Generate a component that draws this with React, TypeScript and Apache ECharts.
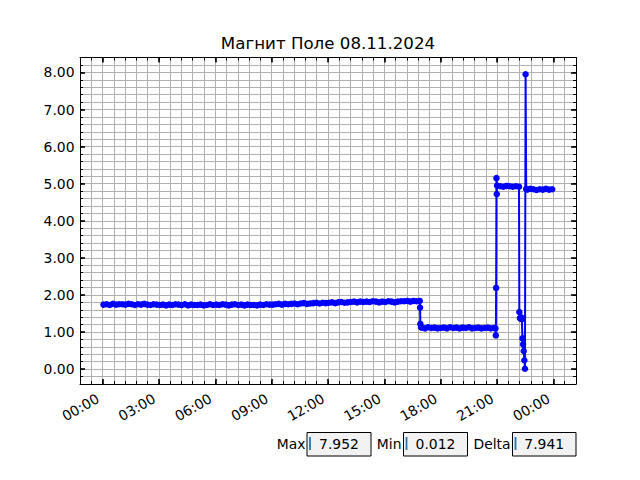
import React, { useEffect, useRef } from "react";
import * as echarts from "echarts";

const TITLE = "Магнит Поле 08.11.2024";
const FONT = "DejaVu Sans";

const xTickLabels = ["00:00", "03:00", "06:00", "09:00", "12:00", "15:00", "18:00", "21:00", "00:00"];
const yTickLabels = ["0.00", "1.00", "2.00", "3.00", "4.00", "5.00", "6.00", "7.00", "8.00"];

const statNames = ["Max", "Min", "Delta"];
const statValues = ["7.952", "0.012", "7.941"];

// 10-minute samples starting 00:03
const dayStart = "00:03";
const dayValues = [
  1.74, 1.75, 1.73, 1.76, 1.74, 1.75,
  1.75, 1.74, 1.76, 1.75, 1.73, 1.75,
  1.74, 1.76, 1.74, 1.73, 1.75, 1.74,
  1.73, 1.74, 1.72, 1.74, 1.73, 1.75,
  1.74, 1.73, 1.75, 1.72, 1.74, 1.73,
  1.73, 1.74, 1.72, 1.73, 1.75, 1.73,
  1.74, 1.73, 1.75, 1.74, 1.72, 1.74,
  1.75, 1.73, 1.74, 1.72, 1.74, 1.73,
  1.73, 1.72, 1.74, 1.73, 1.75, 1.74,
  1.74, 1.75, 1.76, 1.74, 1.76, 1.75,
  1.76, 1.77, 1.75, 1.77, 1.78, 1.76,
  1.77, 1.78, 1.79, 1.77, 1.79, 1.78,
  1.79, 1.80, 1.78, 1.80, 1.81, 1.79,
  1.80, 1.81, 1.82, 1.80, 1.82, 1.81,
  1.82, 1.81, 1.83, 1.82, 1.80, 1.82,
  1.81, 1.83, 1.82, 1.80, 1.82, 1.83,
  1.83, 1.84, 1.82, 1.84, 1.83, 1.84,
];

const dropTimes = ["16:54", "16:55", "16:57"];
const dropValues = [1.66, 1.22, 1.13];

// 10-minute samples starting 17:00
const eveningStart = "17:00";
const eveningValues = [
  1.12, 1.10, 1.13, 1.11, 1.12, 1.10,
  1.11, 1.12, 1.10, 1.13, 1.11, 1.12,
  1.10, 1.12, 1.11, 1.13, 1.10, 1.11,
  1.12, 1.10, 1.11, 1.12, 1.10, 1.11,
];

const jumpTimes = ["20:55", "20:56", "20:57", "20:58", "20:59"];
const jumpValues = [1.10, 0.91, 2.19, 5.15, 4.72];

// 10-minute samples starting 21:00
const nightStart = "21:00";
const nightValues = [4.95, 4.93, 4.92, 4.94, 4.93, 4.92, 4.93, 4.92];

const spikeTimes = ["22:11", "22:13", "22:15", "22:17", "22:19", "22:21", "22:23", "22:25", "22:27", "22:29", "22:31", "22:33"];
const spikeValues = [1.54, 1.38, 1.36, 1.40, 1.35, 0.83, 0.67, 0.49, 0.24, 0.012, 7.952, 4.86];

// 10-minute samples starting 22:36
const lateStart = "22:36";
const lateValues = [4.84, 4.86, 4.85, 4.83, 4.85, 4.84, 4.86, 4.84, 4.85];

function toHours(t: string): number {
  const [h, m] = t.split(":").map(Number);
  return h + m / 60;
}

function sampled(start: string, values: number[]): [number, number][] {
  const s = toHours(start);
  return values.map((v, i) => [s + (i * 10) / 60, v]);
}

function listed(times: string[], values: number[]): [number, number][] {
  return times.map((t, i) => [toHours(t), values[i]]);
}

const seriesData: [number, number][] = [
  ...sampled(dayStart, dayValues),
  ...listed(dropTimes, dropValues),
  ...sampled(eveningStart, eveningValues),
  ...listed(jumpTimes, jumpValues),
  ...sampled(nightStart, nightValues),
  ...listed(spikeTimes, spikeValues),
  ...sampled(lateStart, lateValues),
];

export default function App() {
  const ref = useRef<HTMLDivElement>(null);

  useEffect(() => {
    if (!ref.current) return;
    const chart = echarts.init(ref.current, undefined, { renderer: "svg" });

    // frame (data grid) geometry
    const L = 80, R = 576, T = 57.6, B = 384;
    const xMin = -1.2, xMax = 25.2;
    const yMin = -0.4, yMax = 8.4;
    const pxPerH = (R - L) / (xMax - xMin);
    const pxPerU = (B - T) / (yMax - yMin);

    const grayGrid = { color: "#b0b0b0", width: 1 };
    const black = { color: "#000", width: 1 };
    const minorTick = { show: true, inside: true, length: 3, lineStyle: { color: "#000", width: 1 } };
    const majorTick = { show: true, inside: true, length: 5, lineStyle: { color: "#000", width: 1.6 } };
    const labelStyle = { fontFamily: FONT, fontSize: 13.9, color: "#000" };

    const option: any = {
      animation: false,
      backgroundColor: "#fff",
      grid: [
        { left: L, right: 640 - R, top: T, bottom: 480 - B, outerBoundsMode: "none" },
        {
          left: L + (0 - xMin) * pxPerH,
          right: 640 - (R - (xMax - 24) * pxPerH),
          top: T,
          bottom: 480 - B,
          outerBoundsMode: "none",
        },
        {
          left: L,
          right: 640 - R,
          top: T + (yMax - 8) * pxPerU,
          bottom: 480 - (B - (0 - yMin) * pxPerU),
          outerBoundsMode: "none",
        },
      ],
      xAxis: [
        {
          gridIndex: 0, type: "value", min: xMin, max: xMax, interval: 0.6, position: "bottom",
          axisLine: { show: true, onZero: false, lineStyle: black },
          axisTick: minorTick, axisLabel: { show: false },
          splitLine: { show: true, lineStyle: grayGrid },
        },
        {
          gridIndex: 0, type: "value", min: xMin, max: xMax, interval: 0.6, position: "top",
          axisLine: { show: true, onZero: false, lineStyle: black },
          axisTick: minorTick, axisLabel: { show: false }, splitLine: { show: false },
        },
        {
          gridIndex: 1, type: "value", min: 0, max: 24, interval: 3, position: "bottom",
          axisLine: { show: false, onZero: false },
          axisTick: majorTick,
          axisLabel: {
            ...labelStyle, rotate: 30, margin: 10.5, padding: [0, 5.5, 0, 0],
            formatter: (v: number) => xTickLabels[Math.round(v / 3)],
          },
          splitLine: { show: false },
        },
        {
          gridIndex: 1, type: "value", min: 0, max: 24, interval: 3, position: "top",
          axisLine: { show: false, onZero: false },
          axisTick: majorTick, axisLabel: { show: false }, splitLine: { show: false },
        },
        { gridIndex: 2, type: "value", show: false, min: 0, max: 1 },
      ],
      yAxis: [
        {
          gridIndex: 0, type: "value", min: yMin, max: yMax, interval: 0.2, position: "left",
          axisLine: { show: true, onZero: false, lineStyle: black },
          axisTick: minorTick, axisLabel: { show: false },
          splitLine: { show: true, lineStyle: grayGrid },
        },
        {
          gridIndex: 0, type: "value", min: yMin, max: yMax, interval: 0.2, position: "right",
          axisLine: { show: true, onZero: false, lineStyle: black },
          axisTick: minorTick, axisLabel: { show: false }, splitLine: { show: false },
        },
        { gridIndex: 1, type: "value", show: false, min: 0, max: 1 },
        {
          gridIndex: 2, type: "value", min: 0, max: 8, interval: 1, position: "left",
          axisLine: { show: false, onZero: false },
          axisTick: majorTick,
          axisLabel: { ...labelStyle, margin: 5.5, formatter: (v: number) => yTickLabels[Math.round(v)] },
          splitLine: { show: false },
        },
        {
          gridIndex: 2, type: "value", min: 0, max: 8, interval: 1, position: "right",
          axisLine: { show: false, onZero: false },
          axisTick: majorTick, axisLabel: { show: false }, splitLine: { show: false },
        },
      ],
      series: [
        {
          type: "line",
          xAxisIndex: 0,
          yAxisIndex: 0,
          data: seriesData,
          symbol: "circle",
          symbolSize: 6.5,
          showSymbol: true,
          silent: true,
          itemStyle: { color: "#0000ff", borderWidth: 0 },
          lineStyle: { color: "#0000ff", width: 2 },
          emphasis: { disabled: true },
        },
      ],
      graphic: [
        {
          type: "text", x: 328, y: 43.5, silent: true,
          style: { text: TITLE, fontFamily: FONT, fontSize: 16.67, fill: "#000", textAlign: "center", textVerticalAlign: "middle" },
        },
        ...[
          { lx: 305.5, bx: 307, bw: 64 },
          { lx: 401.5, bx: 403.5, bw: 64 },
          { lx: 510.5, bx: 512.5, bw: 63.5 },
        ].flatMap((b, i) => [
          {
            type: "text", x: b.lx, y: 443.5, silent: true,
            style: { text: statNames[i], fontFamily: FONT, fontSize: 13.9, fill: "#000", textAlign: "right", textVerticalAlign: "middle" },
          },
          {
            type: "rect", silent: true,
            shape: { x: b.bx, y: 432.5, width: b.bw, height: 23.5 },
            style: { fill: "#f2f2f2", stroke: "#000", lineWidth: 1 },
          },
          {
            type: "line", silent: true,
            shape: { x1: b.bx + 3, y1: 437, x2: b.bx + 3, y2: 450 },
            style: { stroke: "#1f77b4", lineWidth: 1.8 },
          },
          {
            type: "text", x: b.bx + b.bw / 2, y: 443.5, silent: true,
            style: { text: statValues[i], fontFamily: FONT, fontSize: 13.9, fill: "#000", textAlign: "center", textVerticalAlign: "middle" },
          },
        ]),
      ],
    };

    chart.setOption(option);
    return () => chart.dispose();
  }, []);

  return (
    <div
      ref={ref}
      style={{ position: "fixed", left: 0, top: 0, width: 640, height: 480, background: "#fff" }}
    />
  );
}
